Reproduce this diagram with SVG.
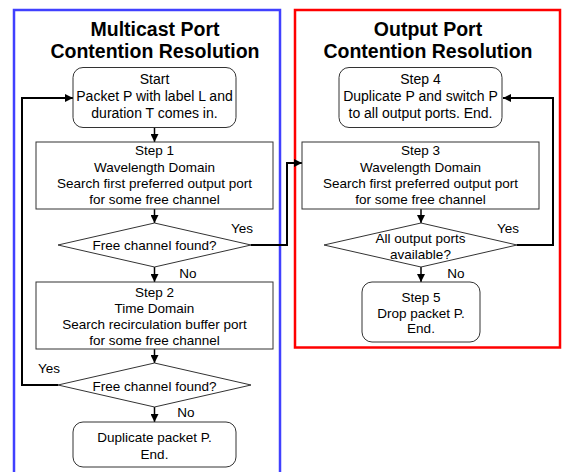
<svg xmlns="http://www.w3.org/2000/svg" width="563" height="472" viewBox="0 0 563 472">
<style>
text{font-family:"Liberation Sans",Arial,sans-serif;font-size:13.5px;fill:#000;text-anchor:middle}
.title{font-weight:bold;font-size:19.5px}
.big{font-size:14px}
.box{fill:#fff;stroke:#333;stroke-width:1}
.frame{fill:none;stroke-width:2.5}
.conn{fill:none;stroke:#000;stroke-width:1.5}
.loop{fill:none;stroke:#000;stroke-width:2}
</style>
<defs>
<marker id="ah" viewBox="0 0 10 10" refX="10" refY="5" markerWidth="8" markerHeight="8" markerUnits="userSpaceOnUse" orient="auto">
<path d="M0,0 L10,5 L0,10 z" fill="#000"/>
</marker>
</defs>
<rect width="563" height="472" fill="#fff"/>
<g id="frames">
<rect class="frame" x="14" y="10" width="266" height="480" stroke="#4040ff"/>
<rect class="frame" x="295" y="10" width="265" height="337.5" stroke="#ff0000"/>
</g>
<g id="titles">
<text class="title" x="155" y="36">Multicast Port</text>
<text class="title" x="155" y="58">Contention Resolution</text>
<text class="title" x="428" y="36">Output Port</text>
<text class="title" x="428" y="58">Contention Resolution</text>
</g>
<g id="connectors">
<line class="conn" x1="154.5" y1="127.5" x2="154.5" y2="142" marker-end="url(#ah)"/>
<line class="conn" x1="154.5" y1="209" x2="154.5" y2="223" marker-end="url(#ah)"/>
<line class="conn" x1="154.5" y1="267" x2="154.5" y2="282" marker-end="url(#ah)"/>
<line class="conn" x1="154.5" y1="349" x2="154.5" y2="363" marker-end="url(#ah)"/>
<line class="conn" x1="154.5" y1="407" x2="154.5" y2="422" marker-end="url(#ah)"/>
<polyline class="loop" points="58,385 22,385 22,98 73,98" marker-end="url(#ah)"/>
<polyline class="loop" points="251,245 287,245 287,163 302,163" marker-end="url(#ah)"/>
<line class="conn" x1="421" y1="209" x2="421" y2="223" marker-end="url(#ah)"/>
<line class="conn" x1="421" y1="267" x2="421" y2="282" marker-end="url(#ah)"/>
<polyline class="loop" points="517,245 553,245 553,98 503,98" marker-end="url(#ah)"/>
<text x="242" y="233">Yes</text>
<text x="188" y="278">No</text>
<text x="49" y="373">Yes</text>
<text x="186" y="417">No</text>
<text x="508" y="233">Yes</text>
<text x="456" y="278">No</text>
</g>
<g id="start">
<rect class="box" x="73" y="67.5" width="163" height="60" rx="10"/>
<text class="big" x="154.5" y="84">Start</text>
<text class="big" x="154.5" y="101">Packet P with label L and</text>
<text class="big" x="154.5" y="118">duration T comes in.</text>
</g>
<g id="step1">
<rect class="box" x="36" y="142" width="237" height="67"/>
<text x="154.5" y="155">Step 1</text>
<text x="154.5" y="171.5">Wavelength Domain</text>
<text x="154.5" y="188">Search first preferred output port</text>
<text x="154.5" y="204">for some free channel</text>
</g>
<g id="decision1">
<polygon class="box" points="154.5,223 251,245 154.5,267 58,245"/>
<text x="154.5" y="250">Free channel found?</text>
</g>
<g id="step2">
<rect class="box" x="36" y="282" width="237" height="67"/>
<text x="154.5" y="297">Step 2</text>
<text x="154.5" y="313">Time Domain</text>
<text x="154.5" y="329">Search recirculation buffer port</text>
<text x="154.5" y="345">for some free channel</text>
</g>
<g id="decision2">
<polygon class="box" points="154.5,363 251,385 154.5,407 58,385"/>
<text x="154.5" y="391">Free channel found?</text>
</g>
<g id="end1">
<rect class="box" x="73" y="422" width="163" height="45" rx="10"/>
<text x="154.5" y="442">Duplicate packet P.</text>
<text x="154.5" y="459">End.</text>
</g>
<g id="step4">
<rect class="box" x="339" y="67.5" width="163" height="60" rx="10"/>
<text class="big" x="420.5" y="84">Step 4</text>
<text class="big" x="420.5" y="101">Duplicate P and switch P</text>
<text class="big" x="420.5" y="118">to all output ports. End.</text>
</g>
<g id="step3">
<rect class="box" x="302" y="142" width="237" height="67"/>
<text x="420.5" y="155">Step 3</text>
<text x="420.5" y="171.5">Wavelength Domain</text>
<text x="420.5" y="188">Search first preferred output port</text>
<text x="420.5" y="204">for some free channel</text>
</g>
<g id="decision3">
<polygon class="box" points="421,223 517,245 421,267 324,245"/>
<text x="420.5" y="243">All output ports</text>
<text x="420.5" y="259">available?</text>
</g>
<g id="step5">
<rect class="box" x="362" y="282" width="118" height="60" rx="10"/>
<text x="421" y="301.5">Step 5</text>
<text x="421" y="317.5">Drop packet P.</text>
<text x="421" y="333">End.</text>
</g>
</svg>
